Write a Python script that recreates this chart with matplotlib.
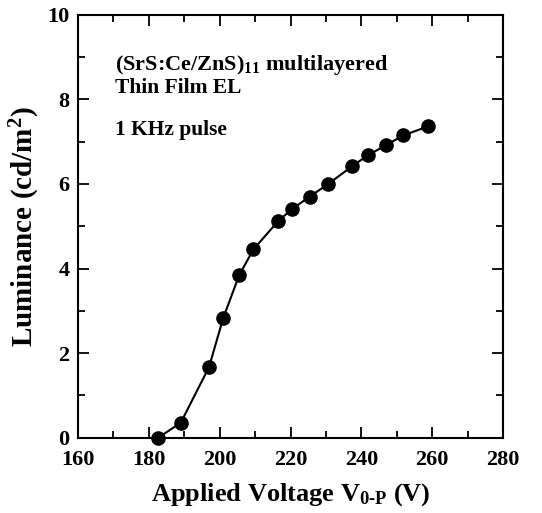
import matplotlib
matplotlib.use("Agg")
import matplotlib.pyplot as plt
from matplotlib.ticker import MultipleLocator

# datos
voltaje = [182.7, 189.0, 197.0, 201.0, 205.5, 209.5, 216.5, 220.5, 225.4,
           230.5, 237.4, 241.9, 247.0, 251.9, 258.8]
luminancia = [0.0, 0.35, 1.67, 2.83, 3.84, 4.45, 5.12, 5.41, 5.70,
              5.99, 6.42, 6.68, 6.92, 7.15, 7.36]
xticks = [160, 180, 200, 220, 240, 260, 280]
yticks = [0, 2, 4, 6, 8, 10]

plt.rcParams['font.family'] = 'Liberation Serif'
plt.rcParams['font.weight'] = 'bold'
plt.rcParams['mathtext.fontset'] = 'custom'
plt.rcParams['mathtext.rm'] = 'Liberation Serif:bold'
plt.rcParams['mathtext.it'] = 'Liberation Serif:bold'
plt.rcParams['mathtext.bf'] = 'Liberation Serif:bold'

fig = plt.figure(figsize=(5.42, 5.13), dpi=100)
ax = fig.add_axes([0.144, 0.147, 0.784, 0.824])

ax.plot(voltaje, luminancia, color='black', lw=1.5, marker='o',
        markersize=9.5, markerfacecolor='black', clip_on=False, zorder=3)

ax.set_xlim(160, 280)
ax.set_ylim(0, 10)
ax.set_xticks(xticks)
ax.set_yticks(yticks)
ax.xaxis.set_minor_locator(MultipleLocator(10))
ax.yaxis.set_minor_locator(MultipleLocator(1))
ax.tick_params(which='both', direction='in', top=True, right=True,
               labelsize=16, width=1.3)
ax.tick_params(which='major', length=8)
ax.tick_params(which='minor', length=5)
ax.tick_params(axis='x', which='major', pad=9)
ax.tick_params(axis='y', which='major', pad=6)
for s in ax.spines.values():
    s.set_linewidth(1.5)
for lab in ax.get_xticklabels() + ax.get_yticklabels():
    lab.set_fontweight('bold')

ax.set_xlabel(r'Applied Voltage V$_{\mathrm{0\text{-}P}}$ (V)', fontsize=19,
              fontweight='bold', labelpad=8)
ax.set_ylabel(r'Luminance (cd/m$^{\mathrm{2}}$)', fontsize=21, fontweight='bold',
              labelpad=4)

ax.text(0.088, 0.881, r'(SrS:Ce/ZnS)$_{11}$ multilayered', transform=ax.transAxes,
        fontsize=16, fontweight='bold', va='center')
ax.text(0.088, 0.826, 'Thin Film EL', transform=ax.transAxes,
        fontsize=15.5, fontweight='bold', va='center')
ax.text(0.088, 0.727, '1 KHz pulse', transform=ax.transAxes,
        fontsize=15.5, fontweight='bold', va='center')

fig.savefig('out.png', dpi=100)
